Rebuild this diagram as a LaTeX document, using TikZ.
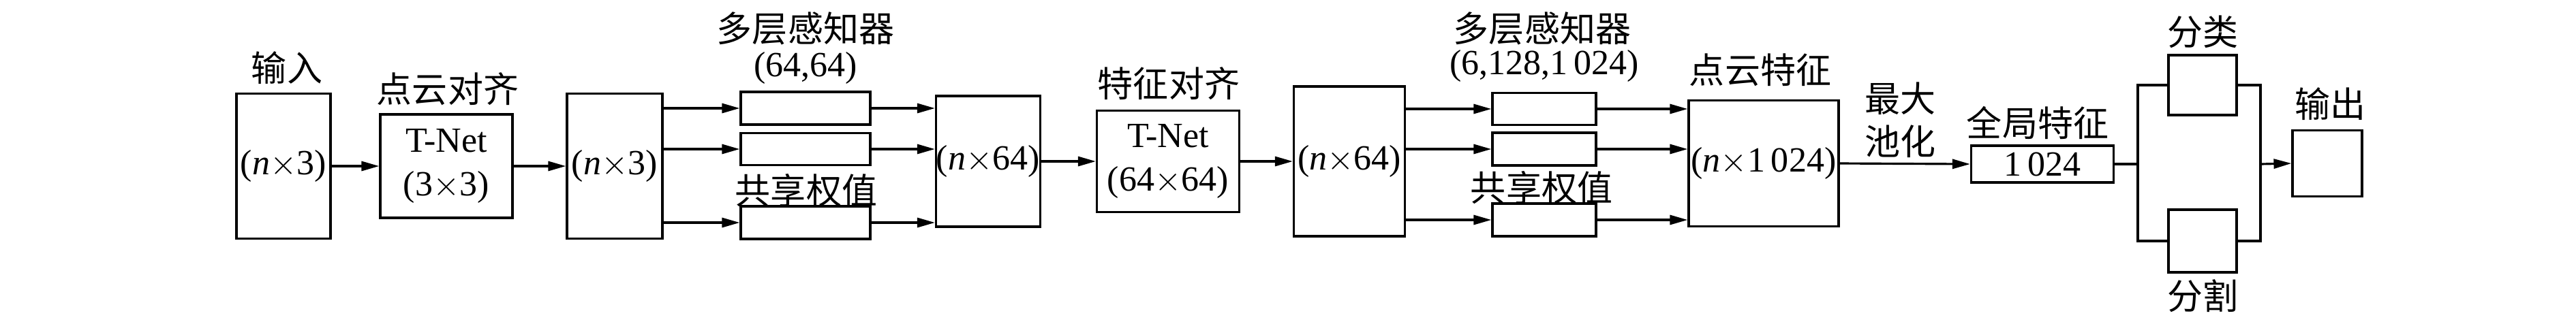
\documentclass[tikz,border=0pt]{standalone}
\usepackage{fontspec}
\setmainfont{Liberation Serif}
\newfontfamily\cjk{Noto Sans CJK SC}
\usetikzlibrary{arrows.meta}

\newcommand{\bytimes}{$\mathord{\times}$}

\tikzset{
    every node/.style={font=\fontsize{14.8pt}{18.4pt}\selectfont},
    blk/.style={draw, line width=0.9pt, inner sep=0pt},
    lbl/.style={font=\fontsize{14.8pt}{18pt}\cjk, inner sep=0pt},
    arr/.style={line width=0.9pt, -{Triangle[length=0.26cm,width=0.14cm]}},
    ln/.style={line width=0.9pt}
}

\begin{document}
\begin{tikzpicture}
    \useasboundingbox (0,0) rectangle (37.8,4.72);

    % Input points
    \node[blk, minimum width=1.38cm, minimum height=2.13cm] (inp) at (4.16,2.28) {(\textit{n}\bytimes3)};
    \node[lbl] (inpL) at (4.21,3.72) {输入};

    % Point cloud alignment
    \node[blk, minimum width=1.94cm, minimum height=1.52cm, align=center] (tnA) at (6.55,2.28) {T-Net\\(3\bytimes3)};
    \node[lbl] (tnAL) at (6.57,3.41) {点云对齐};

    % Aligned points
    \node[blk, minimum width=1.40cm, minimum height=2.13cm] (ptA) at (9.02,2.28) {(\textit{n}\bytimes3)};

    % First shared MLP
    \node[blk, minimum width=1.90cm, minimum height=0.48cm] (mlpA1) at (11.82,3.13) {};
    \node[blk, minimum width=1.90cm, minimum height=0.47cm] (mlpA2) at (11.82,2.53) {};
    \node[blk, minimum width=1.90cm, minimum height=0.48cm] (mlpA3) at (11.82,1.45) {};
    \node[lbl] (mlpAL) at (11.82,4.30) {多层感知器};
    \node (mlpAN) at (11.82,3.72) {(64,64)};
    \node[lbl] (mlpAS) at (11.83,1.92) {共享权值};

    % Features after first MLP
    \node[blk, minimum width=1.53cm, minimum height=1.92cm] (ftA) at (14.50,2.35) {(\textit{n}\bytimes64)};

    % Feature alignment
    \node[blk, minimum width=2.09cm, minimum height=1.49cm, align=center] (tnB) at (17.14,2.35) {T-Net\\(64\bytimes64)};
    \node[lbl] (tnBL) at (17.15,3.49) {特征对齐};

    % Aligned features
    \node[blk, minimum width=1.63cm, minimum height=2.20cm] (ftB) at (19.80,2.35) {(\textit{n}\bytimes64)};

    % Second shared MLP
    \node[blk, minimum width=1.52cm, minimum height=0.47cm] (mlpB1) at (22.66,3.12) {};
    \node[blk, minimum width=1.52cm, minimum height=0.48cm] (mlpB2) at (22.66,2.53) {};
    \node[blk, minimum width=1.52cm, minimum height=0.48cm] (mlpB3) at (22.66,1.49) {};
    \node[lbl] (mlpBL) at (22.63,4.30) {多层感知器};
    \node (mlpBN) at (22.66,3.75) {(6,128,1\,024)};
    \node[lbl] (mlpBS) at (22.62,1.96) {共享权值};

    % Point features
    \node[blk, minimum width=2.20cm, minimum height=1.85cm] (ptF) at (25.88,2.32) {(\textit{n}\bytimes1\,024)};
    \node[lbl] (ptFL) at (25.83,3.69) {点云特征};

    % Max pooling
    \node[lbl, align=center] (pool) at (27.88,2.96) {最大\\池化};

    % Global feature
    \node[blk, minimum width=2.09cm, minimum height=0.54cm] (glb) at (29.97,2.31) {1\,024};
    \node[lbl] (glbL) at (29.90,2.92) {全局特征};

    % Classification and segmentation
    \node[blk, minimum width=1.00cm, minimum height=0.88cm] (cls) at (32.32,3.47) {};
    \node[lbl] (clsL) at (32.32,4.25) {分类};
    \node[blk, minimum width=1.00cm, minimum height=0.92cm] (seg) at (32.32,1.18) {};
    \node[lbl] (segL) at (32.32,0.37) {分割};
    \coordinate (splitL) at (31.37,2.31);
    \coordinate (splitR) at (33.17,2.31);

    % Output
    \node[blk, minimum width=1.02cm, minimum height=0.97cm] (out) at (34.15,2.32) {};
    \node[lbl] (outL) at (34.19,3.19) {输出};

    % Connectors
    \draw[arr] (inp.east) -- (tnA.west);
    \draw[arr] (tnA.east) -- (ptA.west);
    \draw[arr] (ptA.east |- mlpA1) -- (mlpA1.west);
    \draw[arr] (ptA.east |- mlpA2) -- (mlpA2.west);
    \draw[arr] (ptA.east |- mlpA3) -- (mlpA3.west);
    \draw[arr] (mlpA1.east) -- (mlpA1 -| ftA.west);
    \draw[arr] (mlpA2.east) -- (mlpA2 -| ftA.west);
    \draw[arr] (mlpA3.east) -- (mlpA3 -| ftA.west);
    \draw[arr] (ftA.east) -- (tnB.west);
    \draw[arr] (tnB.east) -- (ftB.west);
    \draw[arr] (ftB.east |- mlpB1) -- (mlpB1.west);
    \draw[arr] (ftB.east |- mlpB2) -- (mlpB2.west);
    \draw[arr] (ftB.east |- mlpB3) -- (mlpB3.west);
    \draw[arr] (mlpB1.east) -- (mlpB1 -| ptF.west);
    \draw[arr] (mlpB2.east) -- (mlpB2 -| ptF.west);
    \draw[arr] (mlpB3.east) -- (mlpB3 -| ptF.west);
    \draw[arr] (ptF.east) -- (glb.west);
    \draw[ln] (glb.east) -- (splitL);
    \draw[ln] (cls.west) -| (splitL) |- (seg.west);
    \draw[ln] (cls.east) -| (splitR) |- (seg.east);
    \draw[arr] (splitR) -- (out.west);
\end{tikzpicture}
\end{document}
